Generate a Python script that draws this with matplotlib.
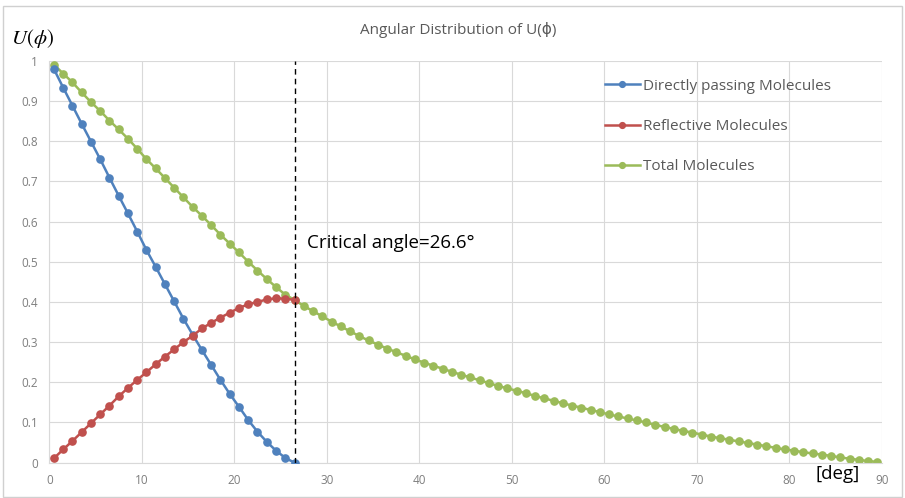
import numpy as np
import matplotlib
matplotlib.use("Agg")
import matplotlib.pyplot as plt
from matplotlib.patches import Rectangle

# angle bins in degrees (centre of each 1 degree bin)
angles = np.arange(0.5, 90.0, 1.0)
angles_direct = angles[:27]

# values
direct = [0.979, 0.933, 0.888, 0.843, 0.799, 0.755, 0.709, 0.664, 0.620, 0.575,
          0.529, 0.487, 0.444, 0.401, 0.358, 0.318, 0.280, 0.243, 0.206, 0.171,
          0.139, 0.106, 0.077, 0.052, 0.030, 0.012, 0.000]
reflective = [0.011, 0.033, 0.054, 0.076, 0.098, 0.120, 0.142, 0.165, 0.186, 0.206,
              0.225, 0.245, 0.264, 0.282, 0.300, 0.316, 0.334, 0.348, 0.361, 0.373,
              0.385, 0.394, 0.400, 0.406, 0.409, 0.408, 0.405]
total = [0.990, 0.968, 0.946, 0.921, 0.897, 0.875, 0.851, 0.829, 0.806, 0.781,
         0.755, 0.732, 0.708, 0.684, 0.660, 0.636, 0.614, 0.591, 0.567, 0.545,
         0.523, 0.500, 0.478, 0.457, 0.437, 0.418, 0.405,
         0.390, 0.377, 0.364, 0.351, 0.339, 0.327, 0.315, 0.304, 0.294, 0.284,
         0.275, 0.266, 0.257, 0.249, 0.241, 0.234, 0.226, 0.219, 0.212, 0.205,
         0.198, 0.191, 0.185, 0.179, 0.173, 0.166, 0.160, 0.154, 0.148, 0.142,
         0.137, 0.131, 0.126,
         0.120, 0.115, 0.110, 0.105, 0.100, 0.094, 0.089, 0.084, 0.079, 0.075,
         0.070, 0.065, 0.061, 0.057, 0.053, 0.049, 0.045, 0.041, 0.037, 0.033,
         0.030, 0.026, 0.023, 0.020, 0.017, 0.013, 0.010, 0.007, 0.004, 0.002]
critical_angle = 26.6

x_ticks = list(range(0, 91, 10))
y_ticks = [0, 0.1, 0.2, 0.3, 0.4, 0.5, 0.6, 0.7, 0.8, 0.9, 1]
y_tick_labels = ["0", "0.1", "0.2", "0.3", "0.4", "0.5", "0.6", "0.7", "0.8", "0.9", "1"]

plt.rcParams['font.family'] = ['Open Sans', 'DejaVu Sans']
plt.rcParams['mathtext.fontset'] = 'stix'

fig = plt.figure(figsize=(9.05, 4.98), dpi=100)
ax = fig.add_axes([0.0545, 0.0709, 0.9201, 0.8072])

grey = "#595959"
tick_grey = "#7f7f7f"
grid_c = "#d9d9d9"

ax.plot(angles_direct, direct, color="#4F81BD", marker="o", markersize=5.2, lw=1.8,
        label="Directly passing Molecules", zorder=3)
ax.plot(angles_direct, reflective, color="#C0504D", marker="o", markersize=5.2, lw=1.8,
        label="Reflective Molecules", zorder=3)
ax.plot(angles, total, color="#9BBB59", marker="o", markersize=5.2, lw=1.8,
        label="Total Molecules", zorder=2)

ax.axvline(critical_angle, color="black", ls=(0, (4, 3)), lw=1, zorder=4)

ax.set_xlim(0, 90)
ax.set_ylim(0, 1)
ax.set_xticks(x_ticks)
ax.set_yticks(y_ticks)
ax.set_yticklabels(y_tick_labels)
ax.tick_params(length=0, labelsize=8.5, colors=tick_grey, pad=8)
ax.grid(True, color=grid_c, lw=0.8)
ax.set_axisbelow(True)
for s in ["top", "right"]:
    ax.spines[s].set_visible(False)
ax.spines["left"].set_color(grid_c)
ax.spines["bottom"].set_color(grid_c)

ax.text(27.9, 0.547, "Critical angle=26.6°", fontsize=13.5, color="black",
        va="center", ha="left")
ax.text(85.2, -0.027, "[deg]", fontsize=13.5, color="black", va="center", ha="center",
        clip_on=False)

leg = ax.legend(loc="upper left", bbox_to_anchor=(0.667, 0.955), frameon=False,
                fontsize=11, labelspacing=1.65, handlelength=2.3, handletextpad=0.2,
                borderpad=0, borderaxespad=0, markerscale=0.8)
for t in leg.get_texts():
    t.set_color(grey)

fig.text(0.506, 0.94, "Angular Distribution of U(ϕ)", ha="center", va="center",
         fontsize=11, color=grey)
fig.text(0.012, 0.922, r"$U(\phi)$", ha="left", va="center", fontsize=15, color="black")

fig.patches.append(Rectangle((0.003, 0.002), 0.994, 0.986, transform=fig.transFigure,
                             fill=False, edgecolor="#d0d0d0", lw=1))

fig.savefig("out.png", dpi=100)
